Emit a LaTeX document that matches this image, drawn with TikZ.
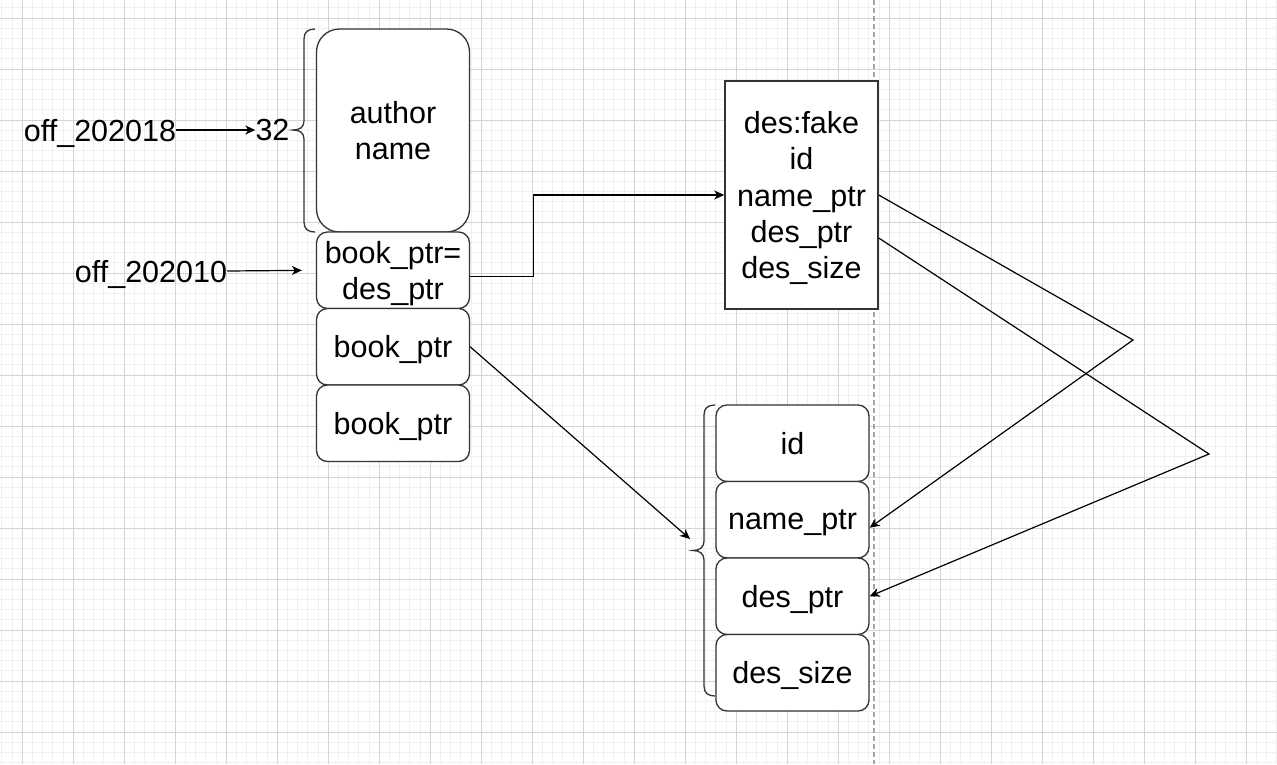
\documentclass[tikz,border=0pt]{standalone}
\usepackage{fontspec}
\setmainfont{Liberation Sans}
\usetikzlibrary{arrows.meta}

\begin{document}
\begin{tikzpicture}[x=1pt,y=-1pt]
	\tikzstyle{every node}+=[inner sep=0pt, align=center, text depth=0pt, font=\fontsize{30.5}{36.3}\selectfont]
	\tikzstyle{minor}=[draw=black!6, line width=1pt]
	\tikzstyle{major}=[draw=black!17, line width=1pt]
	\tikzstyle{cell}=[draw=black!80, line width=1.3pt, fill=white, rounded corners=11pt, minimum width=153pt, minimum height=76.5pt]
	\tikzstyle{ptr}=[black, line width=1.2pt, -{Stealth[length=10pt,width=9pt,inset=3pt]}]
	\tikzstyle{brace}=[draw=black!80, line width=1.3pt]
	\useasboundingbox[fill=white] (0,0) rectangle (1277,764);
	\foreach \i in {0,...,125} \draw[minor] ({1.9+10.2*\i},0) -- ({1.9+10.2*\i},764);
	\foreach \i in {0,...,74} \draw[minor] (0,{7.8+10.2*\i}) -- (1277,{7.8+10.2*\i});
	\foreach \i in {0,...,24} \draw[major] ({22.3+51*\i},0) -- ({22.3+51*\i},764);
	\foreach \i in {0,...,14} \draw[major] (0,{18+51*\i}) -- (1277,{18+51*\i});
	\draw[black!35, line width=1.5pt, dash pattern=on 5pt off 3pt] (874,0) -- (874,764);
	\node (off1) at (100,130) {off\_202018};
	\node (n32) at (272.5,130) {32};
	\node (off2) at (151,271) {off\_202010};
	\node[cell, rounded corners=23pt, minimum height=203pt] (author) at (393,130.5) {author\\name};
	\node[cell] (ptrA) at (393,270.25) {book\_ptr=\\des\_ptr};
	\node[cell] (ptrB) at (393,346.75) {book\_ptr};
	\node[cell] (ptrC) at (393,423.25) {book\_ptr};
	\node[draw=black!80, line width=1.5pt, fill=white, minimum width=153pt, minimum height=228pt] (fake) at (801.5,195) {des:fake\\id\\name\_ptr\\des\_ptr\\des\_size};
	\node[cell] (idc) at (792.5,443.25) {id};
	\node[cell] (namep) at (792.5,519.75) {name\_ptr};
	\node[cell] (desp) at (792.5,596.25) {des\_ptr};
	\node[cell] (dess) at (792.5,672.75) {des\_size};
	\draw[brace] (315,29) .. controls (308,29) and (304,32) .. (304,39) -- (304,121) .. controls (304,127) and (300,130) .. (293,130) .. controls (300,130) and (304,133) .. (304,139) -- (304,222) .. controls (304,229) and (308,232) .. (315,232);
	\draw[brace] (715,405) .. controls (708,405) and (704,408) .. (704,415) -- (704,541) .. controls (704,547) and (700,550.5) .. (693,550.5) .. controls (700,550.5) and (704,554) .. (704,560) -- (704,686) .. controls (704,693) and (708,696) .. (715,696);
	\coordinate (tipR) at (690,539);
	\coordinate (bendA) at (1133,340);
	\coordinate (bendB) at (1209,454);
	\draw[ptr] (off1) -- (n32);
	\draw[ptr, shorten >=14pt] (off2.east) -- (ptrA.west);
	\draw[ptr] ([yshift=-6pt]ptrA.east) -- ++(63,0) |- (fake.west);
	\draw[ptr] (ptrB.east) -- (tipR);
	\draw[ptr] (fake.east) -- (bendA) -- ([yshift=-8pt]namep.east);
	\draw[ptr] ([yshift=-43pt]fake.east) -- (bendB) -- (desp.east);
\end{tikzpicture}
\end{document}
